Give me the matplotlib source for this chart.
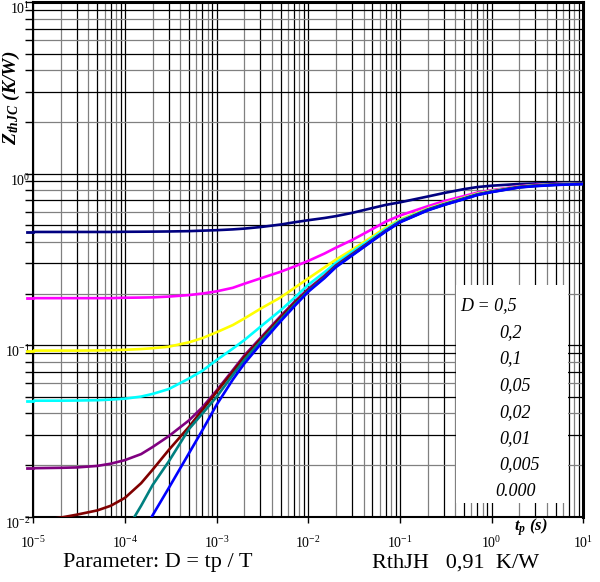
import matplotlib
matplotlib.use('Agg')
import matplotlib.pyplot as plt
from matplotlib.transforms import ScaledTranslation
from matplotlib.patches import Rectangle

plt.rcParams['font.family'] = 'Liberation Serif'
plt.rcParams['mathtext.fontset'] = 'custom'
plt.rcParams['mathtext.rm'] = 'Liberation Serif'
plt.rcParams['mathtext.it'] = 'Liberation Serif:italic'
plt.rcParams['mathtext.bf'] = 'Liberation Serif:italic:bold'

# pulse widths tp (s)
t_full = [1e-5, 2e-5, 3e-5, 5e-5, 7e-5, 1e-4, 1.5e-4, 2e-4, 3e-4, 5e-4, 7e-4,
          1e-3, 1.5e-3, 2e-3, 3e-3, 5e-3, 7e-3, 1e-2, 1.5e-2, 2e-2, 3e-2, 5e-2,
          7e-2, 0.1, 0.2, 0.3, 0.5, 0.7, 1, 2, 3, 5, 7, 10]

# Zth (K/W) for each duty cycle
z_d05 = [0.457, 0.457, 0.457, 0.457, 0.457, 0.458, 0.4585, 0.459, 0.460, 0.462,
         0.465, 0.468, 0.473, 0.478, 0.488, 0.505, 0.520, 0.535, 0.551, 0.565,
         0.590, 0.630, 0.657, 0.680, 0.735, 0.770, 0.812, 0.835, 0.850, 0.870,
         0.876, 0.881, 0.883, 0.885]
z_d02 = [0.188, 0.188, 0.188, 0.188, 0.188, 0.189, 0.1895, 0.190, 0.192, 0.196,
         0.200, 0.206, 0.216, 0.228, 0.245, 0.268, 0.287, 0.310, 0.342, 0.370,
         0.410, 0.475, 0.525, 0.570, 0.645, 0.690, 0.740, 0.775, 0.800, 0.845,
         0.860, 0.870, 0.875, 0.878]
z_d01 = [0.093, 0.093, 0.093, 0.0932, 0.0935, 0.094, 0.095, 0.096, 0.098, 0.104,
         0.110, 0.119, 0.131, 0.143, 0.163, 0.190, 0.215, 0.245, 0.284, 0.315,
         0.360, 0.430, 0.485, 0.540, 0.625, 0.670, 0.725, 0.765, 0.793, 0.840,
         0.855, 0.867, 0.872, 0.877]
z_d005 = [0.0475, 0.0475, 0.0476, 0.0478, 0.0482, 0.0488, 0.0502, 0.052, 0.0555,
          0.064, 0.071, 0.082, 0.0955, 0.107, 0.128, 0.160, 0.188, 0.225, 0.266,
          0.302, 0.350, 0.420, 0.475, 0.533, 0.620, 0.665, 0.720, 0.760, 0.790,
          0.838, 0.853, 0.866, 0.871, 0.876]
z_d002 = [0.0192, 0.0193, 0.0194, 0.0198, 0.0204, 0.0214, 0.0232, 0.0255, 0.0295,
          0.0365, 0.0435, 0.0545, 0.0715, 0.087, 0.110, 0.148, 0.178, 0.213,
          0.254, 0.292, 0.340, 0.411, 0.466, 0.526, 0.616, 0.661, 0.716, 0.756,
          0.786, 0.836, 0.851, 0.864, 0.869, 0.874]
z_d001 = [0.0094, 0.0099, 0.0103, 0.0109, 0.0116, 0.0129, 0.0157, 0.0188, 0.0245,
          0.0335, 0.042, 0.0535, 0.070, 0.085, 0.108, 0.145, 0.175, 0.209, 0.250,
          0.289, 0.337, 0.409, 0.464, 0.524, 0.614, 0.659, 0.714, 0.754, 0.784,
          0.834, 0.849, 0.862, 0.867, 0.872]

t_d0005 = [1.2e-4, 1.5e-4, 2e-4, 3e-4, 5e-4, 7e-4, 1e-3, 1.5e-3, 2e-3, 3e-3,
           5e-3, 7e-3, 1e-2, 1.5e-2, 2e-2, 3e-2, 5e-2, 7e-2, 0.1, 0.2, 0.3, 0.5,
           0.7, 1, 2, 3, 5, 7, 10]
z_d0005 = [0.0095, 0.0116, 0.0153, 0.021, 0.0325, 0.040, 0.050, 0.067, 0.082,
           0.105, 0.141, 0.171, 0.207, 0.248, 0.287, 0.335, 0.407, 0.462, 0.522,
           0.612, 0.657, 0.712, 0.752, 0.782, 0.832, 0.847, 0.860, 0.865, 0.870]

t_d0 = [1.8e-4, 2e-4, 3e-4, 5e-4, 7e-4, 1e-3, 1.5e-3, 2e-3, 3e-3, 5e-3, 7e-3,
        1e-2, 1.5e-2, 2e-2, 3e-2, 5e-2, 7e-2, 0.1, 0.2, 0.3, 0.5, 0.7, 1, 2, 3,
        5, 7, 10]
z_d0 = [0.0092, 0.0102, 0.0147, 0.0235, 0.032, 0.045, 0.063, 0.078, 0.101,
        0.138, 0.168, 0.205, 0.246, 0.285, 0.333, 0.405, 0.460, 0.520, 0.610,
        0.655, 0.710, 0.750, 0.780, 0.830, 0.845, 0.858, 0.864, 0.868]

curves = [
    (t_full, z_d05, '#000080'),
    (t_full, z_d02, '#ff00ff'),
    (t_full, z_d01, '#ffff00'),
    (t_full, z_d005, '#00ffff'),
    (t_full, z_d002, '#800080'),
    (t_full, z_d001, '#800000'),
    (t_d0005, z_d0005, '#008080'),
    (t_d0, z_d0, '#0000ff'),
]

duty_labels = ['D = 0,5', '0,2', '0,1', '0,05', '0,02', '0,01', '0,005', '0.000']

fig = plt.figure(figsize=(6, 5.82), dpi=100)
ax = fig.add_axes([0.0555, 0.112, 0.9167, 0.8846])
ax.set_xscale('log')
ax.set_yscale('log')
ax.set_xlim(1e-5, 10)
ax.set_ylim(1e-2, 10)

# decade grid, odd multiples dark and even multiples grey
for k in range(-5, 1):
    for m in range(1, 10):
        c = '#000000' if m % 2 else '#808080'
        ax.axvline(m * 10.0 ** k, color=c, lw=0.9, zorder=1)
for k in range(-2, 1):
    for m in range(1, 10):
        c = '#000000' if m % 2 else '#808080'
        ax.axhline(m * 10.0 ** k, color=c, lw=0.9, zorder=1)

for t, z, c in curves:
    ax.plot(t, z, color=c, lw=1.9, zorder=3, solid_capstyle='round',
            solid_joinstyle='round')
    # short coloured mark on the y axis at the flat level
    if z[0] >= 0.01:
        ax.plot([-0.012, 0], [z[0], z[0]], color=c, lw=2,
                transform=ax.get_yaxis_transform(), clip_on=False, zorder=4)

# white panel holding the duty-cycle list
ax.add_patch(Rectangle((0.7685, 0.027), 0.2035, 0.4235, transform=ax.transAxes,
                       facecolor='white', edgecolor='none', zorder=5))
ys = [306, 332.5, 359, 386, 412.5, 439, 465, 491]
for lab, yp in zip(duty_labels, ys):
    xp = 460 if lab.startswith('D') else (495 if lab == '0.000' else 499)
    fig.text(xp / 600, 1 - yp / 582, lab, fontsize=13, style='italic',
             ha='left', va='center', zorder=6)

ax.set_xticks([1e-5, 1e-4, 1e-3, 1e-2, 1e-1, 1, 10])
ax.set_xticklabels(['$10^{-5}$', '$10^{-4}$', '$10^{-3}$', '$10^{-2}$',
                    '$10^{-1}$', '$10^{0}$', '$10^{1}$'])
ax.set_yticks([1e-2, 1e-1, 1, 10])
ax.set_yticklabels(['$10^{-2}$', '$10^{-1}$', '$10^{0}$', '$10^{1}$'])
ax.tick_params(axis='x', which='major', length=4, width=1, pad=9,
               labelsize=10, direction='out')
ax.tick_params(axis='y', which='major', length=6, width=1, pad=-4,
               labelsize=10, direction='out')
ax.tick_params(axis='x', which='minor', length=0)
ax.tick_params(axis='y', which='minor', length=6, width=1, direction='out')
ax.yaxis.set_minor_formatter(plt.NullFormatter())
ax.xaxis.set_minor_formatter(plt.NullFormatter())
for lab in ax.get_yticklabels():
    lab.set_transform(lab.get_transform() +
                      ScaledTranslation(0, -4 / 72, fig.dpi_scale_trans))

for side in ['left', 'bottom']:
    ax.spines[side].set_linewidth(1.5)
for side in ['top', 'right']:
    ax.spines[side].set_linewidth(2.2)

ax.set_ylabel(r'$\mathbf{Z_{thJC}}$ (K/W)', fontsize=14, fontweight='bold',
              style='italic')
ax.yaxis.set_label_coords(-0.021, 0.814)
ax.set_xlabel(r'$\mathbf{t_p}$ (s)', fontsize=12, fontweight='bold',
              style='italic')
ax.xaxis.set_label_coords(0.905, 0.0)

fig.text(63 / 600, 1 - 563 / 582, 'Parameter: D = tp / T', fontsize=16,
         ha='left', va='center')
fig.text(372 / 600, 1 - 563 / 582, 'RthJH   0,91  K/W', fontsize=16,
         ha='left', va='center')

fig.savefig('out.png', dpi=100)
